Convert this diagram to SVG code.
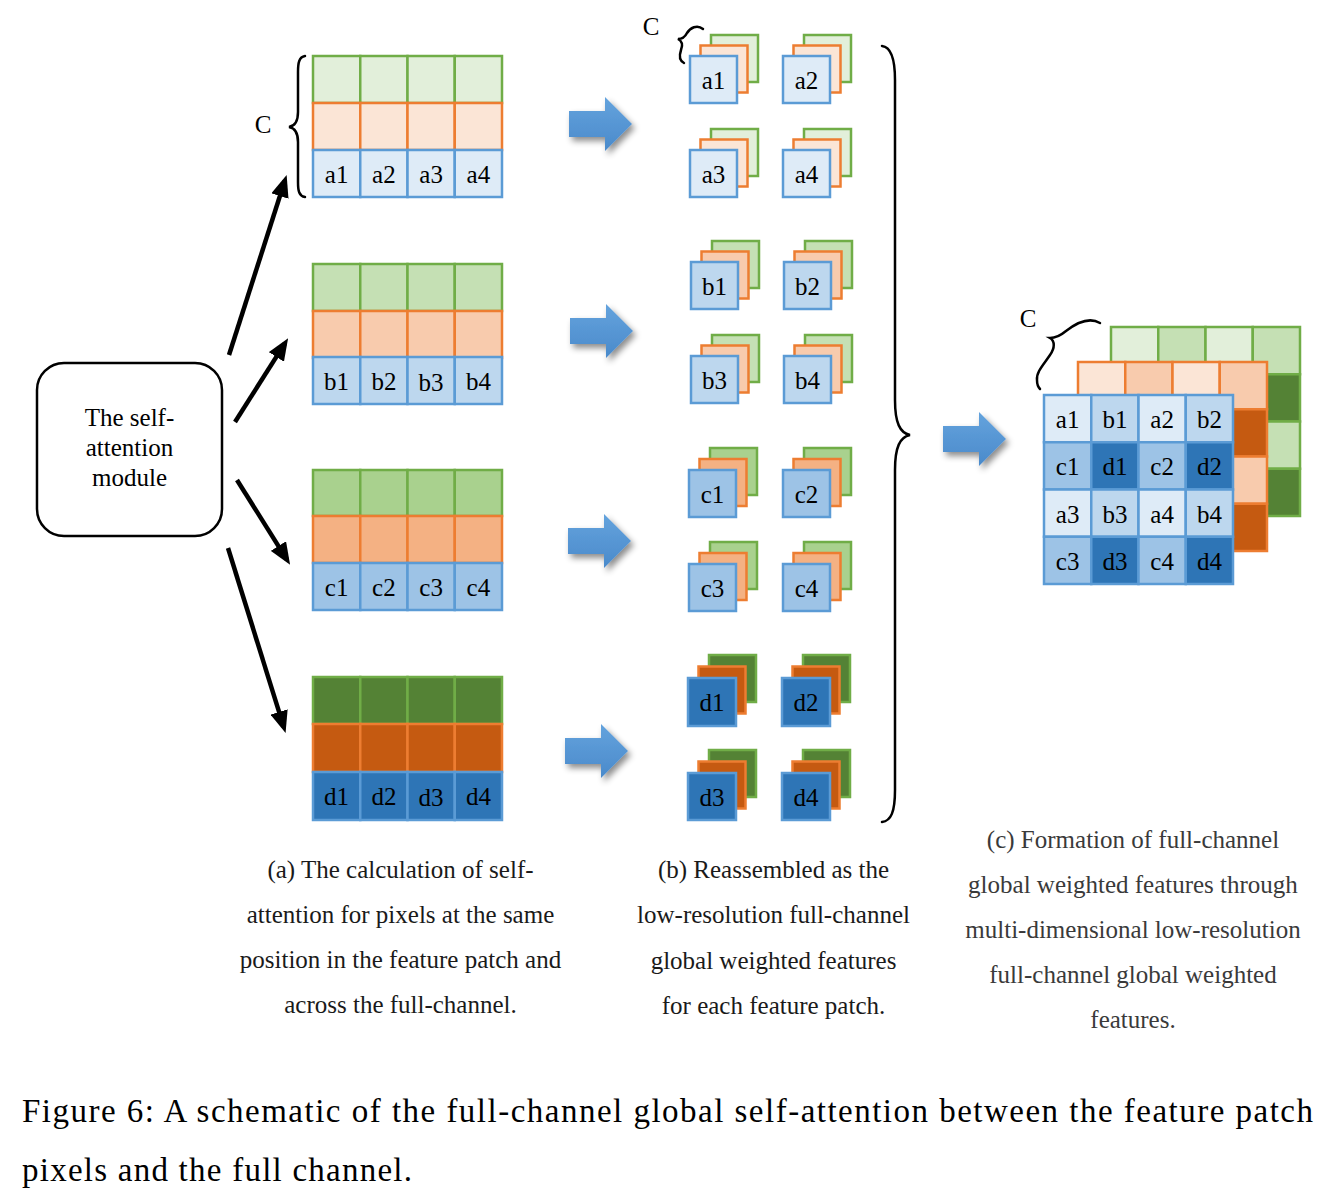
<svg xmlns="http://www.w3.org/2000/svg" xmlns:xlink="http://www.w3.org/1999/xlink" width="1327" height="1203" viewBox="0 0 1327 1203">
<style>
rect.c{stroke-width:2.5}
.g1{fill:#e2efda;stroke:#70ad47}.o1{fill:#fbe5d6;stroke:#ed7d31}.b1{fill:#deebf7;stroke:#5b9bd5}
.g2{fill:#c5e0b4;stroke:#70ad47}.o2{fill:#f8cbad;stroke:#ed7d31}.b2{fill:#bdd7ee;stroke:#5b9bd5}
.g3{fill:#a9d18e;stroke:#70ad47}.o3{fill:#f4b183;stroke:#ed7d31}.b3{fill:#9dc3e6;stroke:#5b9bd5}
.g4{fill:#548235;stroke:#70ad47}.o4{fill:#c55a11;stroke:#ed7d31}.b4{fill:#2e75b6;stroke:#5b9bd5}
text{font-family:"Liberation Serif","Times New Roman",serif;}
.lbl{font-size:25px;text-anchor:middle;fill:#000}
.cap{font-size:25px;text-anchor:middle;fill:#1a1a1a}
.capc{font-size:25px;text-anchor:middle;fill:#3a3a3a}
.fig{font-size:33px;fill:#000}
.brace{fill:none;stroke:#000;stroke-width:2.5;stroke-linecap:round}
.arr{stroke:#000;stroke-width:4.5;fill:none;marker-end:url(#ah)}
</style>
<defs>
<marker id="ah" markerUnits="userSpaceOnUse" markerWidth="22" markerHeight="18" refX="16" refY="9" orient="auto">
<path d="M0,0 L22,9 L0,18 z" fill="#000"/>
</marker>
<linearGradient id="bg" x1="0" y1="0" x2="0" y2="1">
<stop offset="0" stop-color="#64a3dd"/>
<stop offset="1" stop-color="#4a8acb"/>
</linearGradient>
<filter id="sh" x="-40%" y="-40%" width="180%" height="180%">
<feDropShadow dx="3" dy="4" stdDeviation="3" flood-color="#000" flood-opacity="0.45"/>
</filter>
<path id="blk" d="M0,-13 L36,-13 L36,-27 L63,0 L36,27 L36,13 L0,13 z" fill="url(#bg)" filter="url(#sh)"/>
</defs>
<rect width="1327" height="1203" fill="#fff"/>

<!-- Module node -->
<g id="module">
<rect x="37" y="363" width="185" height="173" rx="27" fill="#fff" stroke="#000" stroke-width="2.5"/>
<text class="lbl" x="129.5" y="426">The self-</text>
<text class="lbl" x="129.5" y="456">attention</text>
<text class="lbl" x="129.5" y="486">module</text>
</g>

<!-- Left grids -->
<g id="grid-a">
<rect class="c g1" x="313" y="56" width="47.25" height="47"/><rect class="c g1" x="360.25" y="56" width="47.25" height="47"/><rect class="c g1" x="407.5" y="56" width="47.25" height="47"/><rect class="c g1" x="454.75" y="56" width="47.25" height="47"/>
<rect class="c o1" x="313" y="103" width="47.25" height="47"/><rect class="c o1" x="360.25" y="103" width="47.25" height="47"/><rect class="c o1" x="407.5" y="103" width="47.25" height="47"/><rect class="c o1" x="454.75" y="103" width="47.25" height="47"/>
<rect class="c b1" x="313" y="150" width="47.25" height="47"/><rect class="c b1" x="360.25" y="150" width="47.25" height="47"/><rect class="c b1" x="407.5" y="150" width="47.25" height="47"/><rect class="c b1" x="454.75" y="150" width="47.25" height="47"/>
<text class="lbl" x="336.6" y="182.5">a1</text><text class="lbl" x="383.9" y="182.5">a2</text><text class="lbl" x="431.1" y="182.5">a3</text><text class="lbl" x="478.4" y="182.5">a4</text>
</g>
<g id="grid-b">
<rect class="c g2" x="313" y="264" width="47.25" height="47"/><rect class="c g2" x="360.25" y="264" width="47.25" height="47"/><rect class="c g2" x="407.5" y="264" width="47.25" height="47"/><rect class="c g2" x="454.75" y="264" width="47.25" height="47"/>
<rect class="c o2" x="313" y="311" width="47.25" height="47"/><rect class="c o2" x="360.25" y="311" width="47.25" height="47"/><rect class="c o2" x="407.5" y="311" width="47.25" height="47"/><rect class="c o2" x="454.75" y="311" width="47.25" height="47"/>
<rect class="c b2" x="313" y="357" width="47.25" height="47"/><rect class="c b2" x="360.25" y="357" width="47.25" height="47"/><rect class="c b2" x="407.5" y="357" width="47.25" height="47"/><rect class="c b2" x="454.75" y="357" width="47.25" height="47"/>
<text class="lbl" x="336.6" y="389.5">b1</text><text class="lbl" x="383.9" y="389.5">b2</text><text class="lbl" x="431.1" y="391">b3</text><text class="lbl" x="478.4" y="389.5">b4</text>
</g>
<g id="grid-c">
<rect class="c g3" x="313" y="470" width="47.25" height="46"/><rect class="c g3" x="360.25" y="470" width="47.25" height="46"/><rect class="c g3" x="407.5" y="470" width="47.25" height="46"/><rect class="c g3" x="454.75" y="470" width="47.25" height="46"/>
<rect class="c o3" x="313" y="516" width="47.25" height="47"/><rect class="c o3" x="360.25" y="516" width="47.25" height="47"/><rect class="c o3" x="407.5" y="516" width="47.25" height="47"/><rect class="c o3" x="454.75" y="516" width="47.25" height="47"/>
<rect class="c b3" x="313" y="563" width="47.25" height="47"/><rect class="c b3" x="360.25" y="563" width="47.25" height="47"/><rect class="c b3" x="407.5" y="563" width="47.25" height="47"/><rect class="c b3" x="454.75" y="563" width="47.25" height="47"/>
<text class="lbl" x="336.6" y="595.5">c1</text><text class="lbl" x="383.9" y="595.5">c2</text><text class="lbl" x="431.1" y="595.5">c3</text><text class="lbl" x="478.4" y="595.5">c4</text>
</g>
<g id="grid-d">
<rect class="c g4" x="313" y="677" width="47.25" height="47"/><rect class="c g4" x="360.25" y="677" width="47.25" height="47"/><rect class="c g4" x="407.5" y="677" width="47.25" height="47"/><rect class="c g4" x="454.75" y="677" width="47.25" height="47"/>
<rect class="c o4" x="313" y="724" width="47.25" height="48"/><rect class="c o4" x="360.25" y="724" width="47.25" height="48"/><rect class="c o4" x="407.5" y="724" width="47.25" height="48"/><rect class="c o4" x="454.75" y="724" width="47.25" height="48"/>
<rect class="c b4" x="313" y="772" width="47.25" height="48"/><rect class="c b4" x="360.25" y="772" width="47.25" height="48"/><rect class="c b4" x="407.5" y="772" width="47.25" height="48"/><rect class="c b4" x="454.75" y="772" width="47.25" height="48"/>
<text class="lbl" x="336.6" y="805">d1</text><text class="lbl" x="383.9" y="805">d2</text><text class="lbl" x="431.1" y="806">d3</text><text class="lbl" x="478.4" y="805">d4</text>
</g>

<!-- Stacks (b) -->
<g id="stack-a1" transform="translate(690,56)"><rect class="c g1" x="21" y="-21" width="47" height="47"/><rect class="c o1" x="10.5" y="-10.5" width="47" height="47"/><rect class="c b1" x="0" y="0" width="47" height="47"/><text class="lbl" x="23.5" y="32.5">a1</text></g>
<g id="stack-a2" transform="translate(783,56)"><rect class="c g1" x="21" y="-21" width="47" height="47"/><rect class="c o1" x="10.5" y="-10.5" width="47" height="47"/><rect class="c b1" x="0" y="0" width="47" height="47"/><text class="lbl" x="23.5" y="32.5">a2</text></g>
<g id="stack-a3" transform="translate(690,150)"><rect class="c g1" x="21" y="-21" width="47" height="47"/><rect class="c o1" x="10.5" y="-10.5" width="47" height="47"/><rect class="c b1" x="0" y="0" width="47" height="47"/><text class="lbl" x="23.5" y="32.5">a3</text></g>
<g id="stack-a4" transform="translate(783,150)"><rect class="c g1" x="21" y="-21" width="47" height="47"/><rect class="c o1" x="10.5" y="-10.5" width="47" height="47"/><rect class="c b1" x="0" y="0" width="47" height="47"/><text class="lbl" x="23.5" y="32.5">a4</text></g>

<g id="stack-b1" transform="translate(691,262)"><rect class="c g2" x="21" y="-21" width="47" height="47"/><rect class="c o2" x="10.5" y="-10.5" width="47" height="47"/><rect class="c b2" x="0" y="0" width="47" height="47"/><text class="lbl" x="23.5" y="32.5">b1</text></g>
<g id="stack-b2" transform="translate(784,262)"><rect class="c g2" x="21" y="-21" width="47" height="47"/><rect class="c o2" x="10.5" y="-10.5" width="47" height="47"/><rect class="c b2" x="0" y="0" width="47" height="47"/><text class="lbl" x="23.5" y="32.5">b2</text></g>
<g id="stack-b3" transform="translate(691,356)"><rect class="c g2" x="21" y="-21" width="47" height="47"/><rect class="c o2" x="10.5" y="-10.5" width="47" height="47"/><rect class="c b2" x="0" y="0" width="47" height="47"/><text class="lbl" x="23.5" y="32.5">b3</text></g>
<g id="stack-b4" transform="translate(784,356)"><rect class="c g2" x="21" y="-21" width="47" height="47"/><rect class="c o2" x="10.5" y="-10.5" width="47" height="47"/><rect class="c b2" x="0" y="0" width="47" height="47"/><text class="lbl" x="23.5" y="32.5">b4</text></g>

<g id="stack-c1" transform="translate(689,470)"><rect class="c g3" x="21" y="-22" width="47" height="47"/><rect class="c o3" x="10.5" y="-11" width="47" height="47"/><rect class="c b3" x="0" y="0" width="47" height="47"/><text class="lbl" x="23.5" y="32.5">c1</text></g>
<g id="stack-c2" transform="translate(783,470)"><rect class="c g3" x="21" y="-22" width="47" height="47"/><rect class="c o3" x="10.5" y="-11" width="47" height="47"/><rect class="c b3" x="0" y="0" width="47" height="47"/><text class="lbl" x="23.5" y="32.5">c2</text></g>
<g id="stack-c3" transform="translate(689,564)"><rect class="c g3" x="21" y="-22" width="47" height="47"/><rect class="c o3" x="10.5" y="-11" width="47" height="47"/><rect class="c b3" x="0" y="0" width="47" height="47"/><text class="lbl" x="23.5" y="32.5">c3</text></g>
<g id="stack-c4" transform="translate(783,564)"><rect class="c g3" x="21" y="-22" width="47" height="47"/><rect class="c o3" x="10.5" y="-11" width="47" height="47"/><rect class="c b3" x="0" y="0" width="47" height="47"/><text class="lbl" x="23.5" y="32.5">c4</text></g>

<g id="stack-d1" transform="translate(688,678)"><rect class="c g4" x="21" y="-23" width="47" height="47"/><rect class="c o4" x="10.5" y="-11.5" width="47" height="47"/><rect class="c b4" x="0" y="0" width="48" height="48"/><text class="lbl" x="24" y="33">d1</text></g>
<g id="stack-d2" transform="translate(782,678)"><rect class="c g4" x="21" y="-23" width="47" height="47"/><rect class="c o4" x="10.5" y="-11.5" width="47" height="47"/><rect class="c b4" x="0" y="0" width="48" height="48"/><text class="lbl" x="24" y="33">d2</text></g>
<g id="stack-d3" transform="translate(688,773)"><rect class="c g4" x="21" y="-23" width="47" height="47"/><rect class="c o4" x="10.5" y="-11.5" width="47" height="47"/><rect class="c b4" x="0" y="0" width="48" height="47"/><text class="lbl" x="24" y="33">d3</text></g>
<g id="stack-d4" transform="translate(782,773)"><rect class="c g4" x="21" y="-23" width="47" height="47"/><rect class="c o4" x="10.5" y="-11.5" width="47" height="47"/><rect class="c b4" x="0" y="0" width="48" height="47"/><text class="lbl" x="24" y="33">d4</text></g>

<!-- Result (c) -->
<g id="result">
<g id="result-green">
<rect class="c g1" x="1111" y="327" width="47.25" height="47.25"/><rect class="c g2" x="1158.25" y="327" width="47.25" height="47.25"/><rect class="c g1" x="1205.5" y="327" width="47.25" height="47.25"/><rect class="c g2" x="1252.75" y="327" width="47.25" height="47.25"/>
<rect class="c g3" x="1111" y="374.25" width="47.25" height="47.25"/><rect class="c g4" x="1158.25" y="374.25" width="47.25" height="47.25"/><rect class="c g3" x="1205.5" y="374.25" width="47.25" height="47.25"/><rect class="c g4" x="1252.75" y="374.25" width="47.25" height="47.25"/>
<rect class="c g1" x="1111" y="421.5" width="47.25" height="47.25"/><rect class="c g2" x="1158.25" y="421.5" width="47.25" height="47.25"/><rect class="c g1" x="1205.5" y="421.5" width="47.25" height="47.25"/><rect class="c g2" x="1252.75" y="421.5" width="47.25" height="47.25"/>
<rect class="c g3" x="1111" y="468.75" width="47.25" height="47.25"/><rect class="c g4" x="1158.25" y="468.75" width="47.25" height="47.25"/><rect class="c g3" x="1205.5" y="468.75" width="47.25" height="47.25"/><rect class="c g4" x="1252.75" y="468.75" width="47.25" height="47.25"/>
</g>
<g id="result-orange">
<rect class="c o1" x="1078" y="362" width="47.25" height="47.25"/><rect class="c o2" x="1125.25" y="362" width="47.25" height="47.25"/><rect class="c o1" x="1172.5" y="362" width="47.25" height="47.25"/><rect class="c o2" x="1219.75" y="362" width="47.25" height="47.25"/>
<rect class="c o3" x="1078" y="409.25" width="47.25" height="47.25"/><rect class="c o4" x="1125.25" y="409.25" width="47.25" height="47.25"/><rect class="c o3" x="1172.5" y="409.25" width="47.25" height="47.25"/><rect class="c o4" x="1219.75" y="409.25" width="47.25" height="47.25"/>
<rect class="c o1" x="1078" y="456.5" width="47.25" height="47.25"/><rect class="c o2" x="1125.25" y="456.5" width="47.25" height="47.25"/><rect class="c o1" x="1172.5" y="456.5" width="47.25" height="47.25"/><rect class="c o2" x="1219.75" y="456.5" width="47.25" height="47.25"/>
<rect class="c o3" x="1078" y="503.75" width="47.25" height="47.25"/><rect class="c o4" x="1125.25" y="503.75" width="47.25" height="47.25"/><rect class="c o3" x="1172.5" y="503.75" width="47.25" height="47.25"/><rect class="c o4" x="1219.75" y="503.75" width="47.25" height="47.25"/>
</g>
<g id="result-blue">
<rect class="c b1" x="1044" y="395" width="47.25" height="47.25"/><rect class="c b2" x="1091.25" y="395" width="47.25" height="47.25"/><rect class="c b1" x="1138.5" y="395" width="47.25" height="47.25"/><rect class="c b2" x="1185.75" y="395" width="47.25" height="47.25"/>
<rect class="c b3" x="1044" y="442.25" width="47.25" height="47.25"/><rect class="c b4" x="1091.25" y="442.25" width="47.25" height="47.25"/><rect class="c b3" x="1138.5" y="442.25" width="47.25" height="47.25"/><rect class="c b4" x="1185.75" y="442.25" width="47.25" height="47.25"/>
<rect class="c b1" x="1044" y="489.5" width="47.25" height="47.25"/><rect class="c b2" x="1091.25" y="489.5" width="47.25" height="47.25"/><rect class="c b1" x="1138.5" y="489.5" width="47.25" height="47.25"/><rect class="c b2" x="1185.75" y="489.5" width="47.25" height="47.25"/>
<rect class="c b3" x="1044" y="536.75" width="47.25" height="47.25"/><rect class="c b4" x="1091.25" y="536.75" width="47.25" height="47.25"/><rect class="c b3" x="1138.5" y="536.75" width="47.25" height="47.25"/><rect class="c b4" x="1185.75" y="536.75" width="47.25" height="47.25"/>
<text class="lbl" x="1067.6" y="428">a1</text><text class="lbl" x="1114.9" y="428">b1</text><text class="lbl" x="1162.1" y="428">a2</text><text class="lbl" x="1209.4" y="428">b2</text>
<text class="lbl" x="1067.6" y="475.2">c1</text><text class="lbl" x="1114.9" y="475.2">d1</text><text class="lbl" x="1162.1" y="475.2">c2</text><text class="lbl" x="1209.4" y="475.2">d2</text>
<text class="lbl" x="1067.6" y="522.5">a3</text><text class="lbl" x="1114.9" y="522.5">b3</text><text class="lbl" x="1162.1" y="522.5">a4</text><text class="lbl" x="1209.4" y="522.5">b4</text>
<text class="lbl" x="1067.6" y="569.7">c3</text><text class="lbl" x="1114.9" y="569.7">d3</text><text class="lbl" x="1162.1" y="569.7">c4</text><text class="lbl" x="1209.4" y="569.7">d4</text>
</g>
</g>

<!-- Braces and C labels -->
<g id="braces">
<text class="lbl" x="263" y="133">C</text>
<path class="brace" d="M305,56 C299,57 298,63 298,72 L298,112 C298,121 295,126 289,127 C295,128 298,133 298,142 L298,182 C298,191 299,196 305,197"/>
<text class="lbl" x="651" y="35">C</text>
<path class="brace" d="M703,29 C697,24 690,28 687,33 C685,37 682,39 678,39 C682,41 683,45 681,50 C679,56 680,61 684,63"/>
<path class="brace" d="M882,46 C891,47 895,58 895,80 L895,400 C895,423 900,433 910,435 C900,437 895,447 895,470 L895,790 C895,812 891,821 882,822"/>
<text class="lbl" x="1028" y="327">C</text>
<path class="brace" d="M1100,323 C1088,316 1075,324 1066,331 C1060,336 1055,338 1050,338 C1055,341 1055,348 1050,355 C1044,364 1036,372 1037,380 C1037,385 1039,388 1040,389"/>
</g>

<!-- Connectors -->
<g id="connectors">
<line class="arr" x1="229" y1="355" x2="284.8" y2="180.8"/>
<line class="arr" x1="235" y1="422" x2="284.9" y2="343.4"/>
<line class="arr" x1="237" y1="480" x2="286.9" y2="559.6"/>
<line class="arr" x1="228" y1="548" x2="283.8" y2="727.2"/>
<use xlink:href="#blk" href="#blk" transform="translate(569,124)"/>
<use xlink:href="#blk" href="#blk" transform="translate(570,331)"/>
<use xlink:href="#blk" href="#blk" transform="translate(568,541)"/>
<use xlink:href="#blk" href="#blk" transform="translate(565,751)"/>
<use xlink:href="#blk" href="#blk" transform="translate(943,439)"/>
</g>

<!-- Captions -->
<g id="captions">
<text class="cap" x="400.5" y="878">(a) The calculation of self-</text>
<text class="cap" x="400.5" y="923">attention for pixels at the same</text>
<text class="cap" x="400.5" y="968">position in the feature patch and</text>
<text class="cap" x="400.5" y="1013">across the full-channel.</text>
<text class="cap" x="773.5" y="878">(b) Reassembled as the</text>
<text class="cap" x="773.5" y="923">low-resolution full-channel</text>
<text class="cap" x="773.5" y="969">global weighted features</text>
<text class="cap" x="773.5" y="1014">for each feature patch.</text>
<text class="capc" x="1133" y="848">(c) Formation of full-channel</text>
<text class="capc" x="1133" y="893">global weighted features through</text>
<text class="capc" x="1133" y="938">multi-dimensional low-resolution</text>
<text class="capc" x="1133" y="983">full-channel global weighted</text>
<text class="capc" x="1133" y="1028">features.</text>
<text class="fig" x="22" y="1122" textLength="1291" lengthAdjust="spacing">Figure 6: A schematic of the full-channel global self-attention between the feature patch</text>
<text class="fig" x="22" y="1181" textLength="390" lengthAdjust="spacing">pixels and the full channel.</text>
</g>
</svg>
